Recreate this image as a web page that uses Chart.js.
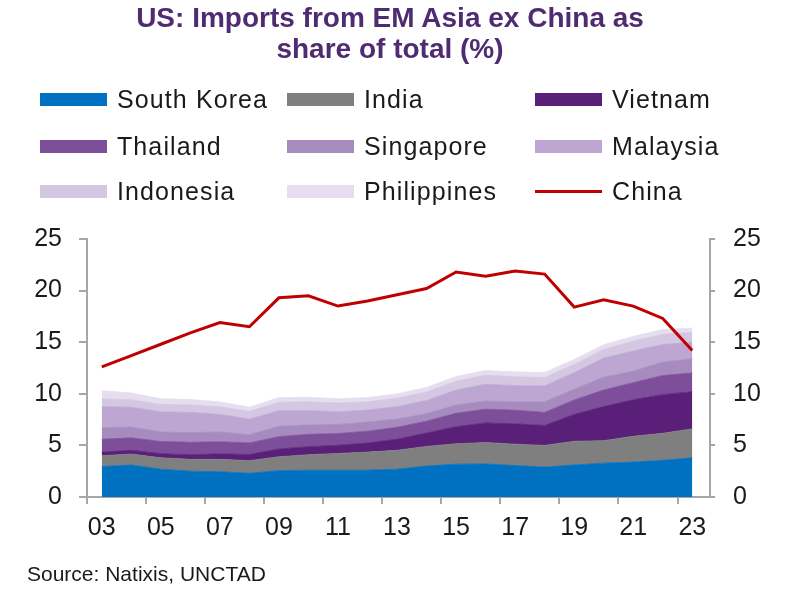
<!DOCTYPE html>
<html>
<head>
<meta charset="utf-8">
<script src="https://cdn.jsdelivr.net/npm/chart.js@4.4.1/dist/chart.umd.min.js"></script>
<style>
html,body{margin:0;padding:0;background:#fff;}
#wrap{position:relative;width:800px;height:600px;font-family:"Liberation Sans",Arial,sans-serif;overflow:hidden;}
#c{position:absolute;left:0;top:0;}
#title{position:absolute;left:0;width:780px;top:2px;text-align:center;font-weight:bold;font-size:28px;line-height:31px;color:#4F2C72;}
.li{position:absolute;height:30px;display:flex;align-items:center;font-size:25px;color:#1a1a1a;letter-spacing:1.1px;white-space:nowrap;}
.sw{width:67px;height:13px;margin-right:10px;flex:none;}
.ln{width:67px;height:3px;margin:5px 10px 5px 0;flex:none;}
#src{position:absolute;left:27px;top:562px;font-size:21px;color:#1a1a1a;}
</style>
</head>
<body>
<div id="wrap">
  <canvas id="c" width="800" height="600"></canvas>
  <div id="title">US: Imports from EM Asia ex China as<br>share of total (%)</div>
  <div id="legend"></div>
  <div id="src">Source: Natixis, UNCTAD</div>
</div>
<script>
// ---- data (% of total US imports) ----
const years = [2003,2004,2005,2006,2007,2008,2009,2010,2011,2012,2013,2014,2015,2016,2017,2018,2019,2020,2021,2022,2023];
const southKorea  = [2.95,3.10,2.70,2.50,2.45,2.30,2.55,2.60,2.60,2.60,2.70,3.00,3.18,3.20,3.05,2.90,3.10,3.28,3.38,3.55,3.80];
const india       = [1.05,1.06,1.10,1.15,1.20,1.22,1.35,1.50,1.62,1.75,1.82,1.90,1.98,2.08,2.07,2.10,2.30,2.18,2.50,2.62,2.80];
const vietnam     = [0.35,0.37,0.40,0.45,0.53,0.60,0.75,0.78,0.80,0.88,1.08,1.30,1.65,1.90,1.97,1.93,2.60,3.30,3.55,3.75,3.60];
const thailand    = [1.25,1.20,1.18,1.20,1.17,1.12,1.20,1.19,1.13,1.14,1.15,1.15,1.30,1.33,1.32,1.27,1.40,1.60,1.65,1.85,1.82];
const singapore   = [1.10,1.05,0.92,0.95,0.95,0.80,1.00,0.92,0.88,0.90,0.80,0.72,0.80,0.80,0.80,1.03,1.05,1.25,1.12,1.30,1.38];
const malaysia    = [2.05,1.92,1.95,1.95,1.70,1.50,1.50,1.38,1.20,1.15,1.20,1.28,1.45,1.62,1.58,1.53,1.60,1.85,1.95,1.70,1.60];
const indonesia   = [0.75,0.73,0.72,0.72,0.74,0.75,0.83,0.85,0.87,0.80,0.83,0.83,0.86,0.87,0.86,0.82,0.80,0.85,0.95,1.00,0.93];
const philippines = [0.80,0.65,0.55,0.52,0.48,0.41,0.45,0.44,0.41,0.42,0.41,0.44,0.45,0.46,0.47,0.49,0.48,0.45,0.47,0.45,0.44];
const china       = [12.6,13.7,14.8,15.9,16.9,16.5,19.3,19.5,18.5,19.0,19.6,20.2,21.8,21.4,21.9,21.6,18.4,19.1,18.5,17.3,14.2];
const labelYears  = [2003,2005,2007,2009,2011,2013,2015,2017,2019,2021,2023];
const yTickValues = [0,5,10,15,20,25];

const seriesNames  = ['South Korea','India','Vietnam','Thailand','Singapore','Malaysia','Indonesia','Philippines'];
const seriesData   = [southKorea,india,vietnam,thailand,singapore,malaysia,indonesia,philippines];
const seriesColors = ['#0070C0','#7F7F7F','#5A1F78','#7D4F9A','#A78BBE','#BDA7D2','#D3C7E2','#E6DEEE'];
const chinaColor = '#C00000';

// ---- HTML legend (3 columns) ----
const legendItems = seriesNames.map((n,i)=>({name:n,color:seriesColors[i],line:false}));
legendItems.push({name:'China',color:chinaColor,line:true});
const colX = [40,287,535], rowY = [99.5,146,191.5];
const lg = document.getElementById('legend');
legendItems.forEach((it,i)=>{
  const d = document.createElement('div');
  d.className = 'li';
  d.style.left = colX[i%3] + 'px';
  d.style.top = (rowY[Math.floor(i/3)] - 15) + 'px';
  const s = document.createElement('span');
  s.className = it.line ? 'ln' : 'sw';
  s.style.background = it.color;
  d.appendChild(s);
  d.appendChild(document.createTextNode(it.name));
  lg.appendChild(d);
});

// ---- chart ----
const pts = arr => arr.map((v,i)=>({x:years[i], y:v}));
const datasets = [{
  type:'line', label:'China', data:pts(china), yAxisID:'y2', xAxisID:'x',
  borderColor:chinaColor, borderWidth:3, pointRadius:0, fill:false, tension:0, order:0
}];
seriesNames.forEach((n,i)=>{
  datasets.push({
    type:'line', label:n, data:pts(seriesData[i]), yAxisID:'y', xAxisID:'x',
    backgroundColor:seriesColors[i], borderColor:seriesColors[i], borderWidth:0.8,
    pointRadius:0, tension:0, fill: i===0 ? 'origin' : '-1', order:1
  });
});

const axisGray = '#A6A6A6';
const tickFont = {family:'"Liberation Sans", Arial, sans-serif', size:25};
function yAxis(pos, stacked, w, tl, pad){
  return {
    type:'linear', position:pos, min:0, max:25, stacked:stacked,
    afterBuildTicks: a => { a.ticks = yTickValues.map(v=>({value:v})); },
    afterFit: s => { s.width = w; },
    ticks:{color:'#1a1a1a', font:tickFont, padding:pad},
    grid:{drawOnChartArea:false, drawTicks:true, tickLength:tl, color:axisGray, lineWidth:2},
    border:{color:axisGray, width:2}
  };
}

new Chart(document.getElementById('c'), {
  data:{datasets},
  options:{
    responsive:false, animation:false, devicePixelRatio:1,
    layout:{padding:{top:239,left:0,right:0,bottom:0}},
    plugins:{legend:{display:false}, tooltip:{enabled:false}, title:{display:false}},
    scales:{
      x:{
        type:'linear', position:'bottom', min:2002.5, max:2023.6,
        afterBuildTicks: a => {
          const t = [];
          labelYears.forEach(y=>{ t.push({value:y-0.5}); t.push({value:y}); });
          a.ticks = t;
        },
        afterFit: s => { s.height = 103; },
        ticks:{
          autoSkip:false, maxRotation:0, minRotation:0, padding:9, color:'#1a1a1a', font:tickFont,
          callback: v => Number.isInteger(v) ? String(v).slice(2) : ''
        },
        grid:{
          drawOnChartArea:false, drawTicks:true, tickLength:7, lineWidth:2,
          color: ctx => (ctx.tick && !Number.isInteger(ctx.tick.value)) ? axisGray : 'rgba(0,0,0,0)'
        },
        border:{color:axisGray, width:2}
      },
      y: yAxis('left', true, 87, 8, 17),
      y2: yAxis('right', false, 90, 5, 18)
    }
  }
});
</script>
</body>
</html>
